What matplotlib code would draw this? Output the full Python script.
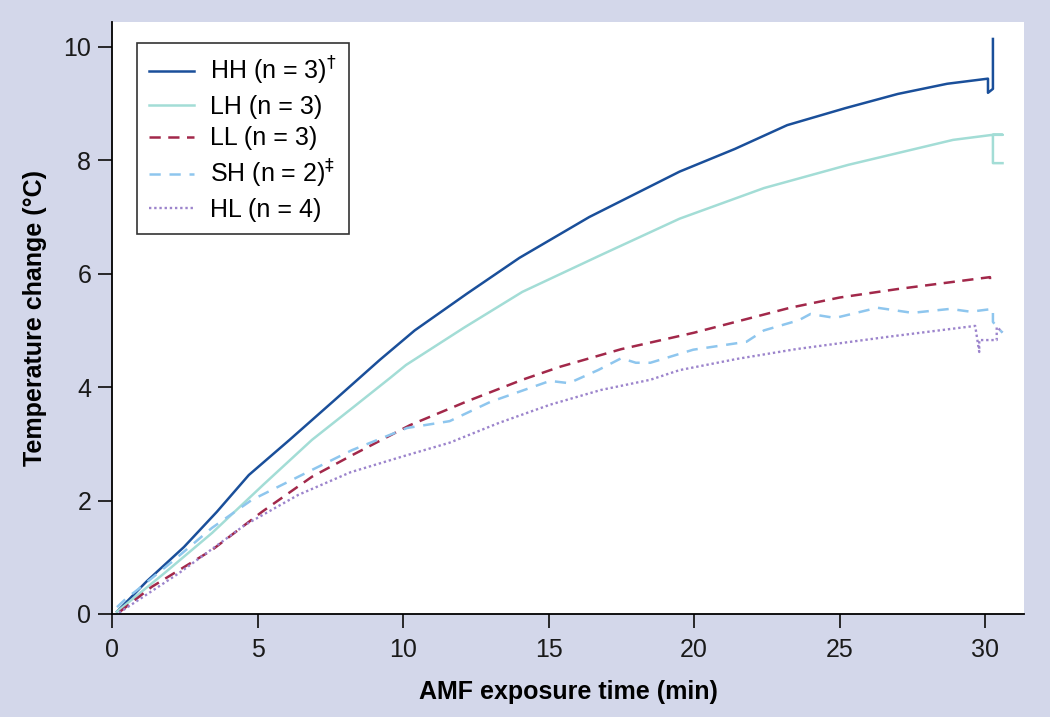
import matplotlib
matplotlib.use("Agg")
import matplotlib.pyplot as plt

plt.rcParams['font.family'] = ['Liberation Sans', 'DejaVu Sans']
plt.rcParams['mathtext.fontset'] = 'dejavusans'

# Series: time (min), temperature change (degC)
hh_t = [0.17, 1.2, 2.47, 3.6, 4.7, 6.1, 7.6, 9.2, 10.4, 12.2, 14.0, 16.4, 19.5,
        21.4, 23.2, 25.2, 27.0, 28.7, 30.1, 30.1, 30.27, 30.27]
hh_y = [0.04, 0.58, 1.18, 1.8, 2.45, 3.07, 3.75, 4.48, 5.0, 5.65, 6.28, 7.0, 7.8,
        8.2, 8.62, 8.92, 9.17, 9.35, 9.44, 9.19, 9.26, 10.14]

lh_t = [0.17, 1.8, 3.44, 5.2, 6.87, 8.3, 9.55, 10.1, 12.1, 14.1, 16.8, 19.5,
        22.4, 25.3, 28.9, 30.27, 30.6, 30.27, 30.27, 30.6]
lh_y = [0.04, 0.72, 1.43, 2.28, 3.07, 3.65, 4.16, 4.39, 5.05, 5.68, 6.33, 6.97,
        7.51, 7.92, 8.36, 8.45, 8.45, 8.45, 7.95, 7.95]

ll_t = [0.27, 1.37, 3.44, 5.15, 6.87, 8.25, 10.24, 12.2, 14.1, 15.4, 17.5, 20.0,
        23.3, 25.0, 27.0, 30.17, 30.17]
ll_y = [0.04, 0.48, 1.13, 1.8, 2.42, 2.8, 3.33, 3.75, 4.13, 4.36, 4.67, 4.96,
        5.40, 5.58, 5.73, 5.94, 5.84]

sh_t = [0.17, 0.5, 0.86, 2.06, 3.44, 4.8, 6.87, 8.25, 10.14, 11.6, 13.0, 15.05,
        15.7, 16.7, 17.5, 18.0, 18.5, 19.97, 21.8, 22.4, 23.6, 24.0, 24.85,
        26.3, 27.5, 28.8, 29.5, 30.27, 30.27, 30.45, 30.6]
sh_y = [0.12, 0.28, 0.42, 0.92, 1.52, 2.01, 2.54, 2.89, 3.28, 3.4, 3.74, 4.11,
        4.07, 4.3, 4.51, 4.43, 4.43, 4.66, 4.8, 5.0, 5.18, 5.29, 5.22,
        5.40, 5.31, 5.38, 5.33, 5.38, 5.15, 5.04, 4.96]

hl_t = [0.24, 2.3, 4.57, 6.4, 8.2, 10.0, 11.6, 13.3, 15.05, 16.8, 18.5, 19.5,
        21.5, 23.5, 26.7, 29.66, 29.8, 29.8, 30.4, 30.4, 30.6]
hl_y = [0.02, 0.72, 1.57, 2.1, 2.5, 2.78, 3.02, 3.37, 3.69, 3.95, 4.13, 4.3,
        4.5, 4.67, 4.89, 5.08, 4.62, 4.83, 4.83, 5.06, 4.97]

labels = [r'HH (n = 3)$^{\dagger}$', 'LH (n = 3)', 'LL (n = 3)',
          r'SH (n = 2)$^{\ddagger}$', 'HL (n = 4)']

fig = plt.figure(figsize=(10.5, 7.17), dpi=100, facecolor='#d3d7ea')
ax = fig.add_axes([0.1067, 0.1437, 0.8686, 0.8257])
ax.set_facecolor('white')

ax.plot(hh_t, hh_y, color='#1a4f9a', lw=1.8, label=labels[0])
ax.plot(lh_t, lh_y, color='#a3ddd6', lw=1.8, label=labels[1])
ax.plot(ll_t, ll_y, color='#a2284a', lw=1.8, ls=(0, (4.5, 3)), label=labels[2])
ax.plot(sh_t, sh_y, color='#8ec6ee', lw=1.8, ls=(0, (4.5, 3.5)), label=labels[3])
ax.plot(hl_t, hl_y, color='#9c84cc', lw=1.7, ls=(0, (1, 1.2)), label=labels[4])

ax.set_xlim(0, 31.34)
ax.set_ylim(0, 10.44)
ax.set_xticks([0, 5, 10, 15, 20, 25, 30])
ax.set_yticks([0, 2, 4, 6, 8, 10])

for s in ['top', 'right']:
    ax.spines[s].set_visible(False)
for s in ['left', 'bottom']:
    ax.spines[s].set_linewidth(1.3)
ax.tick_params(direction='out', length=10, width=1.3, labelsize=18, colors='#1a1a1a')
ax.tick_params(axis='x', pad=7)
ax.tick_params(axis='y', pad=5)

ax.set_xlabel('AMF exposure time (min)', fontsize=18, fontweight='bold', labelpad=13)
ax.set_ylabel('Temperature change (°C)', fontsize=18, fontweight='bold', labelpad=12)

leg = ax.legend(loc='upper left', bbox_to_anchor=(0.027, 0.965), borderaxespad=0,
                fontsize=18, fancybox=False, handlelength=1.8, handletextpad=0.65,
                labelspacing=0.3, borderpad=0.5)
leg.get_frame().set_edgecolor('black')
leg.get_frame().set_linewidth(1.2)

fig.savefig('out.png', dpi=100, facecolor=fig.get_facecolor())
